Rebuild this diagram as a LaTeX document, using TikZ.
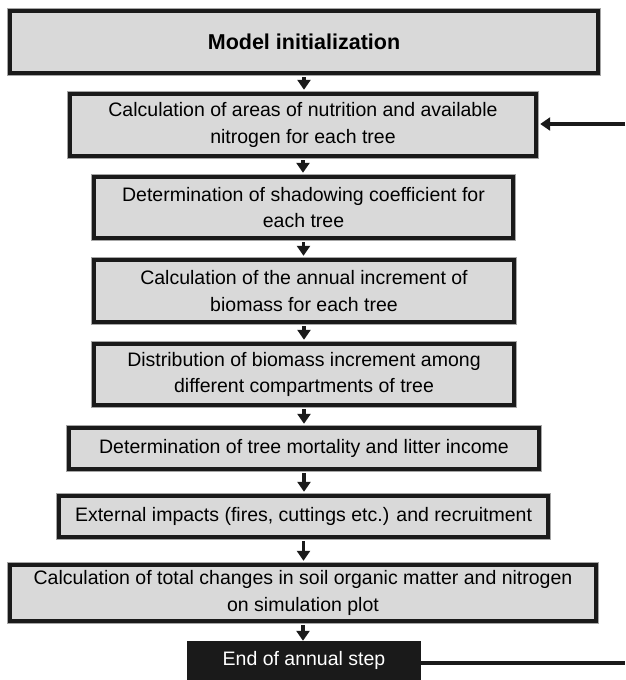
\documentclass[tikz,border=0pt]{standalone}
\usepackage{fontspec}
\setmainfont{Liberation Sans}
\usetikzlibrary{arrows.meta}
\definecolor{boxfill}{HTML}{D9D9D9}
\definecolor{boxline}{HTML}{1A1A1A}
\tikzset{
  flowbox/.style={rectangle, draw=boxline, fill=boxfill, line width=4pt,
    preaction={draw=gray!70, line width=5.6pt},
    align=center, inner sep=0pt, font=\fontsize{19.5}{26.5}\selectfont},
  endbox/.style={rectangle, fill=boxline, text=white, align=center, inner sep=0pt,
    font=\fontsize{19.5}{26.5}\selectfont},
  flowarrow/.style={draw=boxline, line width=3.2pt, -{Triangle[width=13pt,length=10pt]}},
  loopline/.style={draw=boxline, line width=3.2pt},
}
\begin{document}
\begin{tikzpicture}[x=1pt,y=-1pt]
\useasboundingbox (0,0) rectangle (625,680);
\node[flowbox, minimum width=588pt, minimum height=62pt, font=\fontsize{21.5}{25}\selectfont\bfseries] (b1) at (304,42) {Model initialization};
\node[flowbox, minimum width=466pt, minimum height=62pt] (b2) at (303,125) {Calculation of areas of nutrition and available\\nitrogen for each tree};
\node[flowbox, minimum width=419pt, minimum height=61pt] (b3) at (303.5,207.5) {Determination of shadowing coefficient for\\each tree};
\node[flowbox, minimum width=420pt, minimum height=62pt] (b4) at (304,291) {Calculation of the annual increment of\\biomass for each tree};
\node[flowbox, minimum width=420pt, minimum height=61pt] (b5) at (304,374.5) {Distribution of biomass increment among\\different compartments of tree};
\node[flowbox, minimum width=470pt, minimum height=41pt] (b6) at (304,448.5) {Determination of tree mortality and litter income};
\node[flowbox, minimum width=489pt, minimum height=41pt] (b7) at (303.5,516.5) {External impacts (fires, cuttings etc.) and recruitment};
\node[flowbox, minimum width=586pt, minimum height=56pt] (b8) at (303,593) {Calculation of total changes in soil organic matter and nitrogen\\on simulation plot};
\node[endbox, minimum width=234pt, minimum height=39pt] (e) at (304,660.5) {End of annual step};
\coordinate (inR) at (625,124);
\coordinate (outR) at (625,663);
\foreach \a/\b in {b1/b2,b2/b3,b3/b4,b4/b5,b5/b6,b6/b7,b7/b8}{
  \draw[flowarrow] ([yshift=-2pt]\a.south) -- ([yshift=2.2pt]\a.south |- \b.north);
}
\draw[flowarrow] ([yshift=-2pt]b8.south) -- (b8.south |- e.north);
\draw[flowarrow] (inR) -- ([xshift=2.2pt]b2.east |- inR);
\draw[loopline] (e.east |- outR) -- (outR);
\end{tikzpicture}
\end{document}
